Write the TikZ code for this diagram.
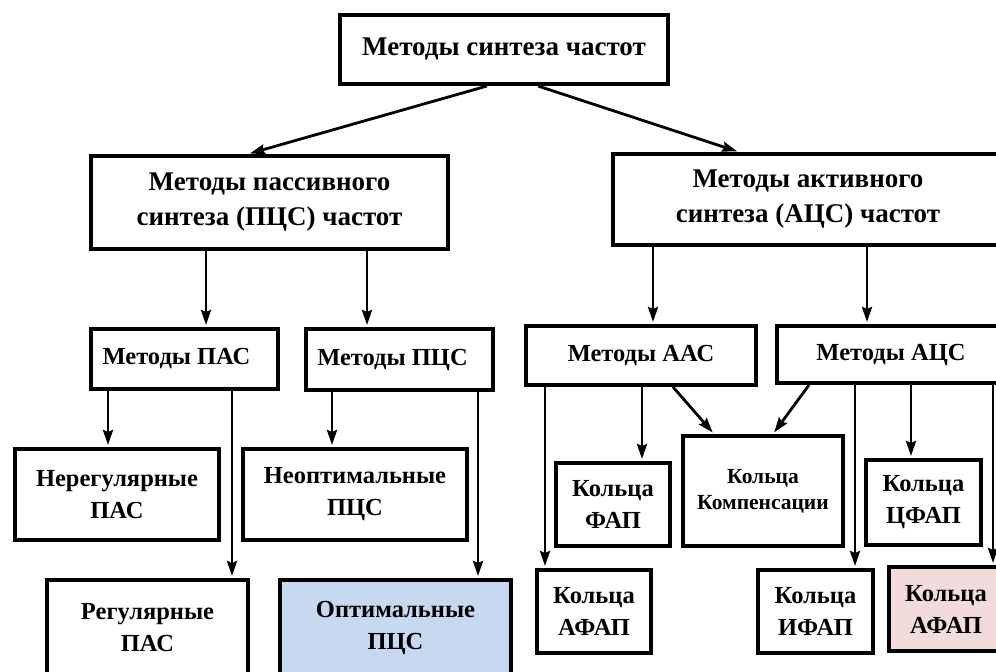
\documentclass[tikz,border=0pt]{standalone}
\usepackage{fontspec}
\setmainfont{Liberation Serif}
\usetikzlibrary{arrows.meta}
\definecolor{optblue}{HTML}{C6D9F1}
\definecolor{afappink}{HTML}{F2DCDB}
\begin{document}
\begin{tikzpicture}[x=1pt,y=-1pt,
  box/.style={draw, line width=4pt, align=center, inner sep=0pt,
    font=\bfseries\fontsize{24.5}{32}\selectfont},
  bigbox/.style={box, font=\bfseries\fontsize{27}{35}\selectfont},
  arr/.style={line width=2.8pt, -{Stealth[length=15pt,width=10pt,inset=2pt]}, shorten >=2pt},
]
\useasboundingbox (0,0) rectangle (996,672);

% level 1 and 2
\node[bigbox, minimum width=328pt, minimum height=69pt] (top) at (504,49.5) {Методы синтеза частот};
\node[bigbox, minimum width=357pt, minimum height=93pt] (pass) at (269.5,202.5) {Методы пассивного\\синтеза (ПЦС) частот};
\node[bigbox, minimum width=390pt, minimum height=91pt] (act) at (808,199.5) {Методы активного\\синтеза (АЦС) частот};

% level 3
\node[box, minimum width=187pt, minimum height=60pt] (mpas) at (184.5,359) {Методы ПАС\hspace*{16pt}};
\node[box, minimum width=187pt, minimum height=61pt] (mpcs) at (399.5,359.5) {Методы ПЦС\hspace*{14pt}};
\node[box, minimum width=230pt, minimum height=59pt] (maas) at (641,355.5) {Методы ААС};
\node[box, minimum width=228pt, minimum height=57pt] (macs) at (891,354.5) {Методы АЦС};

% passive leaves
\node[box, minimum width=204pt, minimum height=91pt] (nereg) at (117,494.5) {Нерегулярные\\ПАС};
\node[box, minimum width=224pt, minimum height=91pt] (neopt) at (355,494.5) {Неоптимальные\\ПЦС};
\node[box, minimum width=201pt, minimum height=96pt] (reg) at (147.5,628) {Регулярные\\ПАС};
\node[box, fill=optblue, minimum width=231pt, minimum height=96pt] (opt) at (395.5,628) {Оптимальные\\ПЦС};

% active leaves
\node[box, minimum width=114pt, minimum height=83pt] (fap) at (613,504.5) {Кольца\\ФАП};
\node[box, minimum width=160pt, minimum height=110pt,
  font=\bfseries\fontsize{21.5}{26}\selectfont] (komp) at (763,491) {Кольца\\Компенсации};
\node[box, minimum width=115pt, minimum height=85pt] (cfap) at (923.5,502.5) {Кольца\\ЦФАП};
\node[box, minimum width=114pt, minimum height=83pt] (afapa) at (594,611.5) {Кольца\\АФАП};
\node[box, minimum width=115pt, minimum height=83pt] (ifap) at (815.5,611.5) {Кольца\\ИФАП};
\node[box, fill=afappink, minimum width=114pt, minimum height=84pt] (afapb) at (946,609) {Кольца\\АФАП};

% connectors
\draw[arr] ([xshift=-17pt]top.south) -- ([xshift=-21.5pt]pass.north);
\draw[arr] ([xshift=34pt]top.south) -- ([xshift=-69pt]act.north);

\draw[arr] (pass.south -| 206,0) -- (mpas.north -| 206,0);
\draw[arr] (pass.south -| 367,0) -- (mpcs.north -| 367,0);
\draw[arr] (act.south -| 653,0) -- (maas.north -| 653,0);
\draw[arr] (act.south -| 867,0) -- (macs.north -| 867,0);

\draw[arr] (mpas.south -| 108,0) -- (nereg.north -| 108,0);
\draw[arr] (mpas.south -| 232,0) -- (reg.north -| 232,0);
\draw[arr] (mpcs.south -| 332,0) -- (neopt.north -| 332,0);
\draw[arr] (mpcs.south -| 478,0) -- (opt.north -| 478,0);

\draw[arr] (maas.south -| 545,0) -- (afapa.north -| 545,0);
\draw[arr] (maas.south -| 642,0) -- (fap.north -| 642,0);
\draw[arr] (maas.south -| 673,0) -- (komp.north -| 714,0);
\draw[arr] (macs.south -| 809,0) -- (komp.north -| 773,0);
\draw[arr] (macs.south -| 855,0) -- (ifap.north -| 855,0);
\draw[arr] (macs.south -| 911,0) -- (cfap.north -| 911,0);
\draw[arr] (macs.south -| 993,0) -- (afapb.north -| 993,0);
\end{tikzpicture}
\end{document}
